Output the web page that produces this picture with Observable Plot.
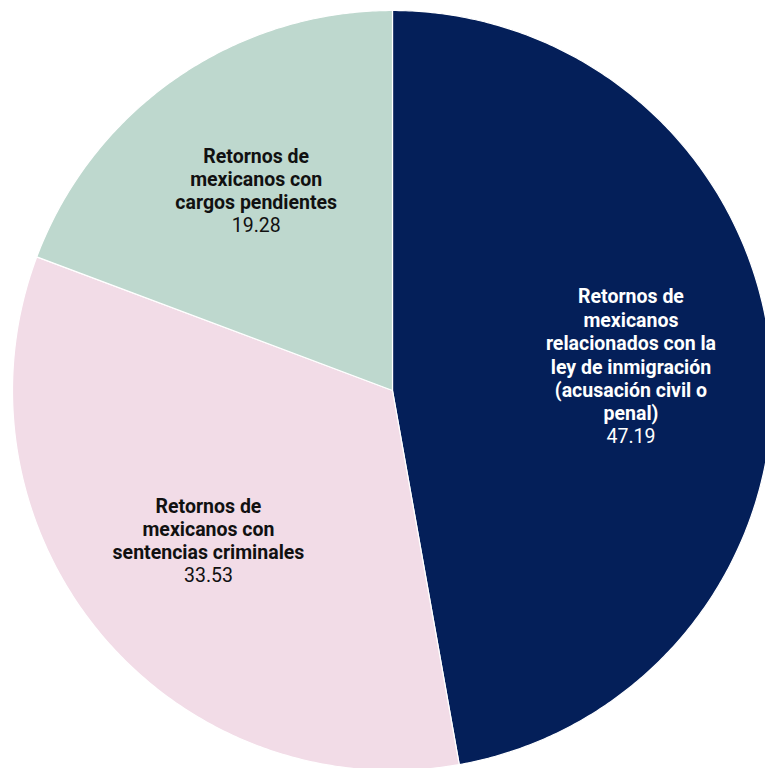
<!DOCTYPE html>
<html>
<head>
<meta charset="utf-8">
<script src="https://cdn.jsdelivr.net/npm/d3@7"></script>
<script src="https://cdn.jsdelivr.net/npm/@observablehq/plot@0.6"></script>
<style>
  html, body { margin: 0; padding: 0; background: #fff; overflow: hidden; }
  #chart svg { overflow: hidden; display: block; }
</style>
</head>
<body>
<div id="chart"></div>
<script>
// Data
const categories = [
  "Retornos de\nmexicanos\nrelacionados con la\nley de inmigración\n(acusación civil o\npenal)",
  "Retornos de\nmexicanos con\nsentencias criminales",
  "Retornos de\nmexicanos con\ncargos pendientes"
];
const values = [47.19, 33.53, 19.28];
const colors = ["#041F59", "#F2DCE7", "#BED8CE"];
const textColors = ["#ffffff", "#111111", "#111111"];

const W = 765, H = 768;
const cx = 392, cy = 390, R = 380;
const fontSize = 19.5, lineH = 23.4, valueGap = 25;

const rows = categories.map((c, i) => ({name: c, value: values[i], i}));
const arcs = d3.pie().sort(null).value(d => d.value)(rows);

// polygon points for each slice (from computed angles)
const poly = [];
arcs.forEach(a => {
  const id = a.data.i;
  poly.push({id, x: 0, y: 0});
  const steps = Math.max(2, Math.ceil((a.endAngle - a.startAngle) / (Math.PI / 360)));
  for (let k = 0; k <= steps; k++) {
    const t = a.startAngle + (a.endAngle - a.startAngle) * k / steps;
    poly.push({id, x: Math.sin(t), y: Math.cos(t)});
  }
  poly.push({id, x: 0, y: 0});
});

const labelR = 0.63;
const labels = arcs.map(a => {
  const m = (a.startAngle + a.endAngle) / 2;
  const n = a.data.name.split("\n").length;
  return {id: a.data.i, name: a.data.name, value: a.data.value, n,
          x: labelR * Math.sin(m), y: labelR * Math.cos(m)};
});

const marks = [
  Plot.line(poly, {x: "x", y: "y", z: "id", fill: "id", stroke: "#ffffff", strokeWidth: 1.2, curve: "linear", strokeLinejoin: "round"})
];
labels.forEach(l => {
  const blockH = (l.n - 1) * lineH + valueGap + lineH;
  const top = -blockH / 2;
  marks.push(Plot.text([l], {x: "x", y: "y", text: "name", lineAnchor: "top", dy: top,
    fontSize, fontWeight: 700, lineHeight: lineH / fontSize, fill: textColors[l.id], textAnchor: "middle"}));
  marks.push(Plot.text([l], {x: "x", y: "y", text: d => d.value.toFixed(2), lineAnchor: "top", dy: top + (l.n - 1) * lineH + valueGap,
    fontSize, fontWeight: 400, fill: textColors[l.id], textAnchor: "middle"}));
});

const chart = Plot.plot({
  width: W, height: H,
  margin: 0,
  style: {fontFamily: "Roboto, sans-serif", background: "#fff", overflow: "hidden"},
  x: {domain: [-cx / R, (W - cx) / R], range: [0, W], axis: null},
  y: {domain: [-(H - cy) / R, cy / R], range: [H, 0], axis: null},
  color: {type: "ordinal", domain: values.map((v, i) => i), range: colors},
  marks
});
document.getElementById("chart").appendChild(chart);
</script>
</body>
</html>
